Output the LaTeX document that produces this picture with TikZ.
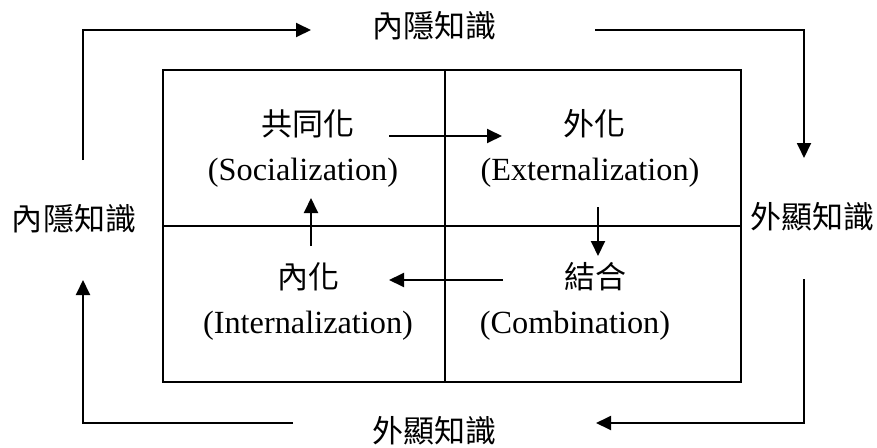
\documentclass[tikz,border=0pt]{standalone}
\usepackage{fontspec}
\setmainfont{Liberation Serif}
\newfontfamily\cjk{Noto Sans CJK TC}
\usetikzlibrary{arrows.meta}
\tikzset{
  line/.style={line width=1.9pt},
  arr/.style={line width=1.9pt, -{Triangle[length=15pt,width=14pt]}},
  zh/.style={inner sep=0pt, font=\cjk\fontsize{31}{36}\selectfont},
  en/.style={inner sep=0pt, font=\fontsize{32.3}{38}\selectfont},
}
\begin{document}
\begin{tikzpicture}[x=1pt,y=-1pt]
\useasboundingbox (0,0) rectangle (877,447);
% matrix box
\draw[line] (163,70) rectangle (741,382);
\draw[line] (445,70) -- (445,382);
\draw[line] (163,226) -- (741,226);
% quadrant texts
\node[zh] (soc)  at (308,124) {共同化};
\node[en] (socE) at (303,173) {(Socialization)};
\node[zh] (ext)  at (594,124) {外化};
\node[en] (extE) at (590,173) {(Externalization)};
\node[zh] (inn)  at (308,277) {內化};
\node[en] (innE) at (308,326) {(Internalization)};
\node[zh] (com)  at (595,277) {結合};
\node[en] (comE) at (575,326) {(Combination)};
% outer labels
\node[zh] (top)    at (434,26)  {內隱知識};
\node[zh] (left)   at (74,219)  {內隱知識};
\node[zh] (right)  at (812,217) {外顯知識};
\node[zh] (bottom) at (434,431) {外顯知識};
% inner arrow coordinates
\coordinate (a1s) at (389,136); \coordinate (a1e) at (502,136);
\coordinate (a2s) at (598,207); \coordinate (a2e) at (598,256);
\coordinate (a3s) at (503,280); \coordinate (a3e) at (389,280);
\coordinate (a4s) at (311,246); \coordinate (a4e) at (311,198);
\draw[arr] (a1s) -- (a1e);
\draw[arr] (a2s) -- (a2e);
\draw[arr] (a3s) -- (a3e);
\draw[arr] (a4s) -- (a4e);
% outer arrow coordinates
\coordinate (o1s) at (83,160); \coordinate (o1c) at (83,30); \coordinate (o1e) at (311,30);
\coordinate (o2s) at (595,30); \coordinate (o2c) at (804,30); \coordinate (o2e) at (804,158);
\coordinate (o3s) at (804,279); \coordinate (o3c) at (804,423); \coordinate (o3e) at (596,423);
\coordinate (o4s) at (293,423); \coordinate (o4c) at (83,423); \coordinate (o4e) at (83,280);
\draw[arr] (o1s) -- (o1c) -- (o1e);
\draw[arr] (o2s) -- (o2c) -- (o2e);
\draw[arr] (o3s) -- (o3c) -- (o3e);
\draw[arr] (o4s) -- (o4c) -- (o4e);
\end{tikzpicture}
\end{document}
